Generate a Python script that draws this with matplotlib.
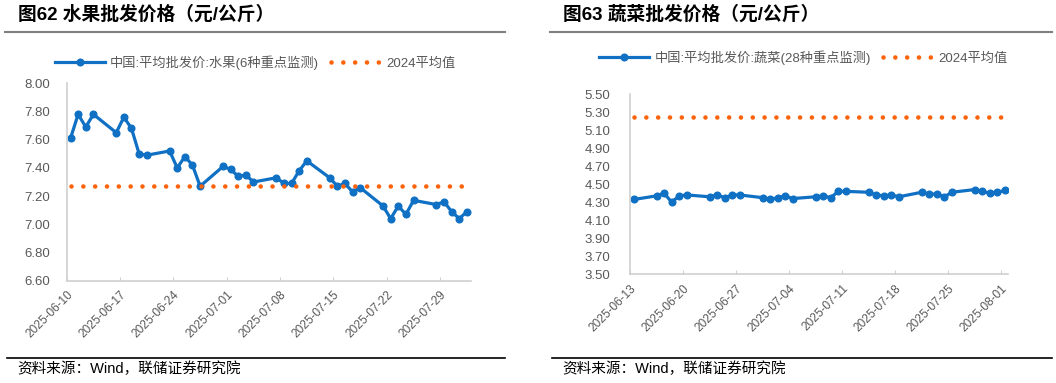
import numpy as np
import matplotlib
matplotlib.use('Agg')
import matplotlib.pyplot as plt
import matplotlib.dates as mdates
from matplotlib.lines import Line2D

plt.rcParams['font.family'] = ['Liberation Sans', 'Noto Sans CJK SC', 'DejaVu Sans']
plt.rcParams['axes.unicode_minus'] = False

#---DATA---
fruit_dates = ['2025-06-10', '2025-06-11', '2025-06-12', '2025-06-13',
               '2025-06-16', '2025-06-17', '2025-06-18', '2025-06-19', '2025-06-20',
               '2025-06-23', '2025-06-24', '2025-06-25', '2025-06-26', '2025-06-27',
               '2025-06-30', '2025-07-01', '2025-07-02', '2025-07-03', '2025-07-04',
               '2025-07-07', '2025-07-08', '2025-07-09', '2025-07-10', '2025-07-11',
               '2025-07-14', '2025-07-15', '2025-07-16', '2025-07-17', '2025-07-18',
               '2025-07-21', '2025-07-22', '2025-07-23', '2025-07-24', '2025-07-25',
               '2025-07-28', '2025-07-29', '2025-07-30', '2025-07-31', '2025-08-01']
fruit_price = [7.61, 7.78, 7.69, 7.78,
               7.65, 7.76, 7.68, 7.50, 7.49,
               7.52, 7.40, 7.48, 7.42, 7.27,
               7.41, 7.39, 7.34, 7.35, 7.30,
               7.33, 7.29, 7.29, 7.38, 7.45,
               7.33, 7.27, 7.29, 7.23, 7.26,
               7.13, 7.04, 7.13, 7.07, 7.17,
               7.14, 7.16, 7.09, 7.04, 7.09]
fruit_avg_2024 = 7.27

veg_dates = ['2025-06-13',
             '2025-06-16', '2025-06-17', '2025-06-18', '2025-06-19', '2025-06-20',
             '2025-06-23', '2025-06-24', '2025-06-25', '2025-06-26', '2025-06-27',
             '2025-06-30', '2025-07-01', '2025-07-02', '2025-07-03', '2025-07-04',
             '2025-07-07', '2025-07-08', '2025-07-09', '2025-07-10', '2025-07-11',
             '2025-07-14', '2025-07-15', '2025-07-16', '2025-07-17', '2025-07-18',
             '2025-07-21', '2025-07-22', '2025-07-23', '2025-07-24', '2025-07-25',
             '2025-07-28', '2025-07-29', '2025-07-30', '2025-07-31', '2025-08-01']
veg_price = [4.33,
             4.37, 4.40, 4.30, 4.37, 4.38,
             4.36, 4.38, 4.35, 4.38, 4.38,
             4.35, 4.33, 4.35, 4.37, 4.34,
             4.36, 4.37, 4.35, 4.42, 4.42,
             4.41, 4.38, 4.37, 4.38, 4.36,
             4.41, 4.39, 4.39, 4.36, 4.41,
             4.44, 4.42, 4.40, 4.41, 4.43]
veg_avg_2024 = 5.25

fruit_ticks = ['2025-06-10', '2025-06-17', '2025-06-24', '2025-07-01',
               '2025-07-08', '2025-07-15', '2025-07-22', '2025-07-29']
veg_ticks = ['2025-06-13', '2025-06-20', '2025-06-27', '2025-07-04',
             '2025-07-11', '2025-07-18', '2025-07-25', '2025-08-01']

#---STYLE---
BLUE = '#0F70C4'
ORANGE = '#FB6209'
GRAY_TXT = '#595959'
GRAY_AX = '#D0D0D0'
W, H = 1056, 383


def dnum(lst):
    return mdates.date2num(np.array(lst, dtype='datetime64[D]'))


def draw_panel(rect, dates, price, avg, label, ticks, xlim, ylim, yticks, leg_xy, ypad):
    ax = fig.add_axes([rect[0] / W, 1 - rect[3] / H, (rect[2] - rect[0]) / W, (rect[3] - rect[1]) / H])
    x = dnum(dates) + 0.5
    ax.plot(x, price, color=BLUE, lw=2.3, marker='o', ms=4.8, label=label)
    # dotted 2024 average, ~12px between dots
    ax.plot(x, [avg] * len(x), color=ORANGE, lw=3.3, linestyle=(0, (0.01, 2.57)),
            dash_capstyle='round', label='2024平均值')
    t0 = dnum([xlim[0]])[0]
    ax.set_xlim(t0, t0 + xlim[1])
    ax.set_ylim(*ylim)
    ax.set_yticks(yticks)
    ax.set_yticklabels(['%.2f' % v for v in yticks])
    ax.set_xticks(dnum(ticks))
    ax.set_xticklabels(ticks, rotation=45, ha='right', rotation_mode='anchor')
    for s in ['top', 'right']:
        ax.spines[s].set_visible(False)
    for s in ['left', 'bottom']:
        ax.spines[s].set_color(GRAY_AX)
        ax.spines[s].set_linewidth(1.2)
    ax.tick_params(axis='y', length=0, labelsize=9.5, labelcolor=GRAY_TXT, pad=ypad)
    ax.tick_params(axis='x', direction='in', length=3, color=GRAY_AX, labelsize=8.6,
                   labelcolor=GRAY_TXT, pad=6)
    leg = ax.legend(loc='center', bbox_to_anchor=(leg_xy[0] / W, 1 - leg_xy[1] / H),
                    bbox_transform=fig.transFigure, ncol=2, frameon=False, fontsize=9.5,
                    handlelength=3.8, handletextpad=0.4, columnspacing=0.9)
    for t in leg.get_texts():
        t.set_color(GRAY_TXT)
    return ax


fig = plt.figure(figsize=(W / 100, H / 100), dpi=100)

draw_panel((66.7, 83.3, 470.7, 280.7), fruit_dates, fruit_price, fruit_avg_2024,
           '中国:平均批发价:水果(6种重点监测)', fruit_ticks, ('2025-06-10', 53.0),
           (6.60, 8.00), np.arange(6.60, 8.001, 0.20), (255, 62.7), 12)
draw_panel((630, 94, 1008, 274.3), veg_dates, veg_price, veg_avg_2024,
           '中国:平均批发价:蔬菜(28种重点监测)', veg_ticks, ('2025-06-13', 49.9),
           (3.50, 5.50), np.arange(3.50, 5.501, 0.20), (803, 57.3), 14)

# titles, rules and sources
for x0, x1, title in [(5, 505, '图62 水果批发价格（元/公斤）'), (550, 1052, '图63 蔬菜批发价格（元/公斤）')]:
    fig.text((x0 + 13) / W, 1 - 15 / H, title, fontsize=13.5, fontweight='bold', va='center', ha='left')
    fig.add_artist(Line2D([x0 / W, x1 / W], [1 - 32 / H] * 2, transform=fig.transFigure,
                          color='#7F7F7F', lw=1.5))
    fig.add_artist(Line2D([(x0 + 2) / W, x1 / W], [1 - 358 / H] * 2, transform=fig.transFigure,
                          color='black', lw=1.2))
    fig.text((x0 + 12) / W, 1 - 369 / H, '资料来源：Wind，联储证券研究院', fontsize=10.5,
             va='center', ha='left')

fig.savefig('out.png', dpi=100)
